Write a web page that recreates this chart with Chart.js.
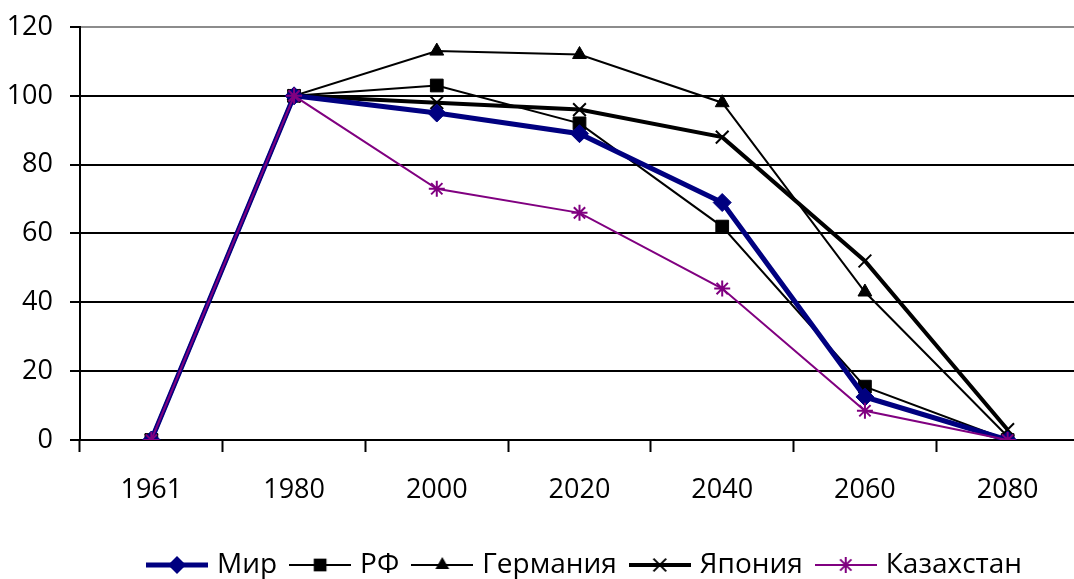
<!DOCTYPE html>
<html>
<head>
<meta charset="utf-8">
<script src="https://cdn.jsdelivr.net/npm/chart.js@4"></script>
<style>
  html, body { margin: 0; padding: 0; background: #fff; overflow: hidden; }
  #wrap { position: relative; width: 1090px; height: 589px; }
</style>
</head>
<body>
<div id="wrap"><canvas id="c"></canvas></div>
<script>
// ---- data ----
const categories = ['1961', '1980', '2000', '2020', '2040', '2060', '2080'];
const seriesNames = ['Мир', 'РФ', 'Германия', 'Япония', 'Казахстан'];
const mir       = [0, 100, 95, 89, 69, 12.5, 0];
const rf        = [0, 100, 103, 92, 62, 15.5, 0];
const germany   = [0, 100, 113, 112, 98, 43, 1];
const japan     = [0, 100, 98, 96, 88, 52, 3];
const kazakh    = [0, 100, 73, 66, 44, 8.5, 0];
const yTicks    = [0, 20, 40, 60, 80, 100, 120];

const FONT = "'Open Sans', 'Liberation Sans', sans-serif";

const styles = [
  { color: '#000080', width: 5, point: 'rectRot', radius: 9, pbw: 1 },
  { color: '#000000', width: 2, point: 'rect', radius: 9, pbw: 1 },
  { color: '#000000', width: 2, point: 'triangle', radius: 8, pbw: 1 },
  { color: '#000000', width: 4, point: 'crossRot', radius: 9, pbw: 2 },
  { color: '#800080', width: 2, point: 'star', radius: 8, pbw: 2 }
];
const values = [mir, rf, germany, japan, kazakh];
const drawOrder = [1, 2, 2, 2, 0];

// legend images: line with marker in the middle
function legendImage(st) {
  const cv = document.createElement('canvas');
  cv.width = 62; cv.height = 26;
  const g = cv.getContext('2d');
  const cx = 31, cy = 13;
  g.strokeStyle = st.color; g.fillStyle = st.color;
  g.lineWidth = st.width;
  g.beginPath(); g.moveTo(0, cy); g.lineTo(62, cy); g.stroke();
  const r = st.radius;
  g.lineWidth = st.pbw;
  g.beginPath();
  if (st.point === 'rectRot') {
    g.moveTo(cx, cy - r); g.lineTo(cx + r, cy); g.lineTo(cx, cy + r); g.lineTo(cx - r, cy); g.closePath(); g.fill();
  } else if (st.point === 'rect') {
    const s = r * Math.SQRT1_2;
    g.rect(cx - s, cy - s, 2 * s, 2 * s); g.fill();
  } else if (st.point === 'triangle') {
    g.moveTo(cx, cy - r); g.lineTo(cx + r * 0.866, cy + r / 2); g.lineTo(cx - r * 0.866, cy + r / 2); g.closePath(); g.fill();
  } else if (st.point === 'crossRot') {
    const o = r * Math.SQRT1_2;
    g.moveTo(cx - o, cy - o); g.lineTo(cx + o, cy + o);
    g.moveTo(cx + o, cy - o); g.lineTo(cx - o, cy + o); g.stroke();
  } else if (st.point === 'star') {
    const o = r * Math.SQRT1_2;
    g.moveTo(cx - o, cy - o); g.lineTo(cx + o, cy + o);
    g.moveTo(cx + o, cy - o); g.lineTo(cx - o, cy + o);
    g.moveTo(cx, cy - r); g.lineTo(cx, cy + r); g.stroke();
  }
  return cv;
}
const legendImgs = styles.map(legendImage);

const datasets = seriesNames.map((name, i) => ({
  label: name,
  data: values[i],
  borderColor: styles[i].color,
  backgroundColor: styles[i].color,
  borderWidth: styles[i].width,
  pointStyle: styles[i].point,
  pointRadius: styles[i].radius,
  pointHoverRadius: styles[i].radius,
  pointBackgroundColor: styles[i].color,
  pointBorderColor: styles[i].color,
  pointBorderWidth: styles[i].pbw,
  tension: 0,
  fill: false,
  order: drawOrder[i]
}));

// The original chart is wider than the visible crop; its legend is centred on the full width.
const legendShift = {
  id: 'legendShift',
  afterLayout(chart) {
    if (chart.legend) { chart.legend.left += 46; chart.legend.right += 46; }
  }
};

new Chart(document.getElementById('c'), {
  type: 'line',
  data: { labels: categories, datasets },
  plugins: [legendShift],
  options: {
    responsive: true,
    maintainAspectRatio: false,
    animation: false,
    layout: { padding: { top: 22, right: 9, left: 0, bottom: 0 } },
    plugins: {
      tooltip: { enabled: false },
      legend: {
        position: 'bottom',
        labels: {
          usePointStyle: true,
          pointStyleWidth: 52,
          padding: 17,
          color: '#000',
          font: { family: FONT, size: 28 },
          generateLabels(chart) {
            return chart.data.datasets.map((ds, i) => ({
              text: ds.label,
              pointStyle: legendImgs[i],
              datasetIndex: i,
              fontColor: '#000',
              hidden: false,
              lineWidth: 0,
              strokeStyle: 'transparent',
              fillStyle: 'transparent'
            }));
          }
        }
      }
    },
    scales: {
      x: {
        type: 'category',
        offset: true,
        afterFit(scale) { scale.height = 94; },
        grid: {
          offset: true,
          drawOnChartArea: false,
          drawTicks: true,
          tickLength: 12,
          tickColor: '#000',
          tickWidth: 2
        },
        border: { display: true, color: '#000', width: 2 },
        ticks: {
          color: '#000',
          padding: 22,
          maxRotation: 0,
          autoSkip: false,
          font: { family: FONT, size: 27 }
        }
      },
      y: {
        min: yTicks[0],
        max: yTicks[yTicks.length - 1],
        afterFit(scale) { scale.width = 80; },
        afterBuildTicks(scale) { scale.ticks = yTicks.map(v => ({ value: v })); },
        grid: {
          color: (ctx) => (ctx.tick && ctx.tick.value === 120 ? '#8c8c8c' : '#000'),
          lineWidth: 2,
          drawTicks: true,
          tickLength: 10,
          tickColor: '#000',
          tickWidth: 2
        },
        border: { display: true, color: '#000', width: 2 },
        ticks: {
          color: '#000',
          padding: 17,
          font: { family: FONT, size: 27, lineHeight: 0.74 }
        }
      }
    }
  }
});
</script>
</body>
</html>
